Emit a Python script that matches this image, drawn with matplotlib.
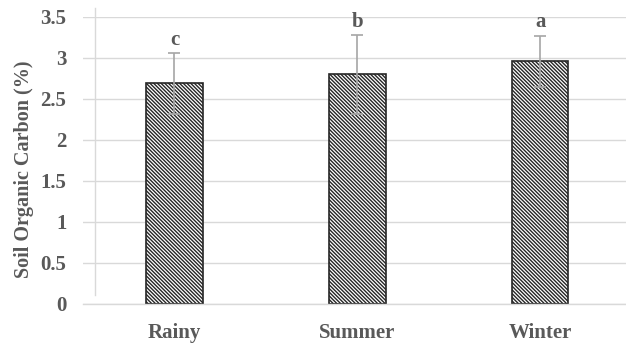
import numpy as np
import matplotlib.pyplot as plt
from matplotlib.lines import Line2D

seasons = ["Rainy", "Summer", "Winter"]
soc = [2.69, 2.80, 2.96]
soc_err = [0.37, 0.48, 0.31]
letters = ["c", "b", "a"]
yticks = [0, 0.5, 1, 1.5, 2, 2.5, 3, 3.5]

grey = "#595959"
plt.rcParams['font.family'] = ['Liberation Serif', 'DejaVu Serif']
plt.rcParams['hatch.linewidth'] = 1.0

fig = plt.figure(figsize=(6.26, 3.44), dpi=100)
ax = fig.add_axes([0.1326, 0.1163, 0.8674, 0.835])

x = np.arange(len(seasons))
ax.bar(x, soc, width=0.31, color="white", edgecolor="#262626", linewidth=1.2,
       hatch="\\" * 9, zorder=2)
ax.errorbar(x, soc, yerr=soc_err, fmt="none", ecolor="#a6a6a6", elinewidth=1.2,
            capsize=4, capthick=1.2, zorder=3)
for xi, v, e, lab in zip(x, soc, soc_err, letters):
    ax.text(xi, v + e + 0.04, lab, ha="center", va="bottom", fontsize=15,
            fontweight="bold", color=grey)

ax.set_xlim(-0.5, 2.47)
ax.set_ylim(0, 3.5)
ax.set_yticks(yticks)
ax.set_yticklabels([f"{t:g}" for t in yticks])
ax.set_xticks(x)
ax.set_xticklabels(seasons)
ax.tick_params(axis="both", length=0, labelsize=15, colors=grey)
for lab in ax.get_xticklabels() + ax.get_yticklabels():
    lab.set_fontweight("bold")
ax.tick_params(axis="x", pad=14)
ax.tick_params(axis="y", pad=12)
ax.grid(axis="y", color="#d9d9d9", linewidth=1.0, zorder=0)
ax.set_axisbelow(True)
for s in ["top", "right", "left"]:
    ax.spines[s].set_visible(False)
ax.spines["bottom"].set_color("#d9d9d9")
ax.spines["bottom"].set_linewidth(1.0)
ax.set_ylabel("Soil Organic Carbon (%)", fontsize=14.5, fontweight="bold", color=grey)
ax.yaxis.set_label_coords(-0.09, 0.47)

# light vertical frame line at left of plot area
fig.add_artist(Line2D([95 / 626, 95 / 626], [1 - 8 / 344, 1 - 295 / 344],
                      color="#d9d9d9", linewidth=1.0))

fig.savefig("out.png", dpi=100)
